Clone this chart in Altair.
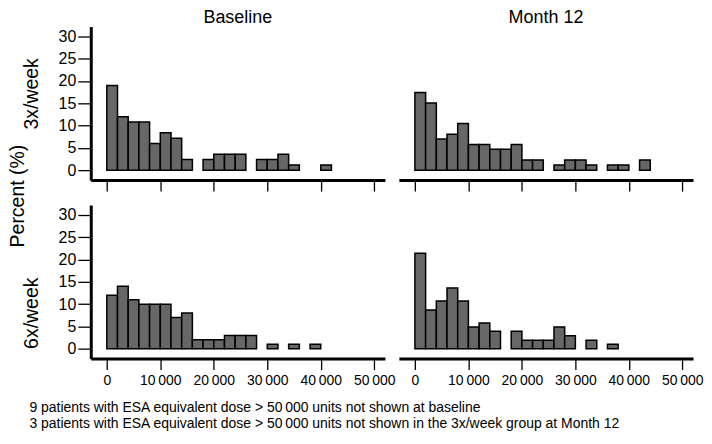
import altair as alt
import pandas as pd

# ---- data (percent of patients per 2000-unit dose bin, bins start at 0) ----
bin_width = 2000
baseline_3x = [19.0, 12.0, 10.8, 10.8, 6.0, 8.4, 7.2, 2.4, 0, 2.4, 3.6, 3.6, 3.6, 0,
               2.4, 2.4, 3.6, 1.2, 0, 0, 1.2]
month12_3x = [17.4, 15.1, 7.0, 8.1, 10.5, 5.8, 5.8, 4.7, 4.7, 5.8, 2.3, 2.3, 0, 1.2,
              2.3, 2.3, 1.2, 0, 1.2, 1.2, 0, 2.3]
baseline_6x = [12, 14, 11, 10, 10, 10, 7, 8, 2, 2, 2, 3, 3, 3, 0, 1, 0, 1, 0, 1]
month12_6x = [21.4, 8.7, 10.7, 13.6, 10.7, 4.9, 5.8, 3.9, 0, 3.9, 1.9, 1.9, 1.9, 4.9,
              2.9, 0, 1.9, 0, 1.0]

x_ticks = [0, 10000, 20000, 30000, 40000, 50000]
y_ticks = [0, 5, 10, 15, 20, 25, 30]
col_titles = ["Baseline", "Month 12"]
row_titles = ["3x/week", "6x/week"]
y_title = "Percent (%)"
footnotes = [
    "9 patients with ESA equivalent dose > 50\u2009000 units not shown at baseline",
    "3 patients with ESA equivalent dose > 50\u2009000 units not shown in the 3x/week group at Month 12",
]

FONT = "Liberation Sans"
W, H = 295, 154
X_DOMAIN = [-3000, 52000]
Y_DOMAIN = [-2.2, 32.2]


def frame(values):
    starts = [i * bin_width for i in range(len(values))]
    df = pd.DataFrame({"start": starts,
                       "end": [s + bin_width for s in starts],
                       "pct": values})
    return df[df["pct"] > 0]


def panel(values, col_title=None, row_title=None, row_title_y=None,
          show_xlabels=False, footnote=None, side_title=None):
    x_axis = alt.Axis(
        values=x_ticks, labels=show_xlabels,
        labelExpr="datum.value == 0 ? '0' : format(datum.value / 1000, 'd') + '\u2009000'",
        domainWidth=3, tickSize=11, tickWidth=1.3, labelFontSize=14, labelPadding=4,
        grid=False,
        **({"titleX": -62, "titleY": 53, "titleAnchor": "start", "titleAlign": "left",
            "titleBaseline": "alphabetic", "titleFontSize": 14, "titleFontWeight": "normal",
            "titleLineHeight": 16} if footnote else {}),
    )
    if row_title:
        y_axis = alt.Axis(
            values=y_ticks, domainWidth=3, tickSize=13, tickWidth=1.3,
            labelFontSize=16, labelPadding=2, grid=False,
            titleX=-53, titleY=row_title_y, titleAngle=270, titleAlign="center",
            titleBaseline="alphabetic", titleFontSize=19.5, titleFontWeight="normal",
        )
    else:
        y_axis = None
    ch = alt.Chart(frame(values)).mark_bar(
        color="#676767", stroke="black", strokeWidth=1.5
    ).encode(
        x=alt.X("start:Q", scale=alt.Scale(domain=X_DOMAIN, nice=False, zero=False),
                axis=x_axis, title=footnote if footnote else None),
        x2="end:Q",
        y=alt.Y("pct:Q", scale=alt.Scale(domain=Y_DOMAIN, nice=False, zero=False),
                axis=y_axis, title=row_title if row_title else None),
        y2=alt.datum(0),
    )
    if side_title:
        lab = alt.Chart(pd.DataFrame({"t": [side_title]})).mark_text(
            angle=270, fontSize=19.5, font=FONT, color="black",
            baseline="alphabetic", align="center",
        ).encode(text="t:N", x=alt.value(-67), y=alt.value(170))
        ch = alt.layer(ch, lab)
    ch = ch.properties(width=W, height=H)
    if col_title:
        ch = ch.properties(title=alt.TitleParams(
            col_title, fontSize=18, fontWeight="normal", font=FONT, offset=0,
            anchor="middle", color="black"))
    return ch


p1 = panel(baseline_3x, col_title=col_titles[0], row_title=row_titles[0], row_title_y=67,
           side_title=y_title)
p2 = panel(month12_3x, col_title=col_titles[1])
p3 = panel(baseline_6x, row_title=row_titles[1], row_title_y=108, show_xlabels=True,
           footnote=footnotes)
p4 = panel(month12_6x, show_xlabels=True)

chart = alt.concat(p1, p2, p3, p4, columns=2,
                   spacing={"row": 25, "column": 14}, bounds="flush").properties(
    padding=0,
).configure_view(stroke=None).configure_axis(
    domainColor="black", tickColor="black", labelColor="black", titleColor="black",
    labelFont=FONT, titleFont=FONT,
)

chart.save("out.html", embed_options={"renderer": "svg", "actions": False})
